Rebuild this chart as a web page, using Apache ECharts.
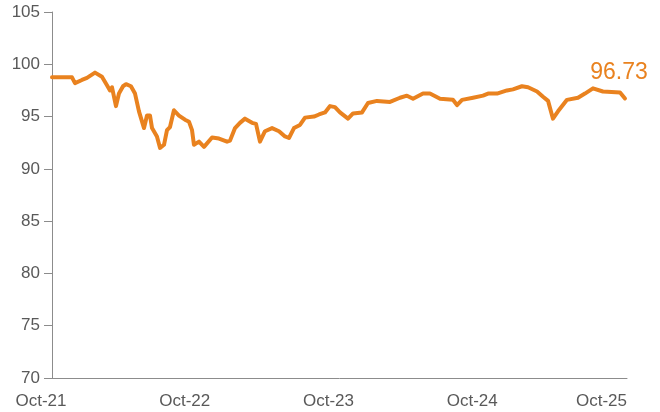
<!DOCTYPE html>
<html>
<head>
<meta charset="utf-8">
<script src="https://cdn.jsdelivr.net/npm/echarts@6/dist/echarts.min.js"></script>
<style>html,body{margin:0;padding:0;background:#fff}#c{width:660px;height:412px}</style>
</head>
<body>
<div id="c"></div>
<script>
// months since Oct-21
var months = [0,1.67,1.92,2.50,2.92,3.59,4.17,4.59,4.84,5.01,
  5.34,5.59,5.93,6.18,6.59,6.93,7.26,7.68,7.93,8.18,
  8.35,8.76,9.02,9.35,9.60,9.85,10.18,10.60,11.10,11.44,
  11.69,11.85,12.27,12.69,13.36,13.94,14.61,14.86,15.28,15.69,
  16.11,16.70,17.03,17.36,17.78,18.37,18.95,19.45,19.78,20.20,
  20.70,21.12,21.87,22.29,22.79,23.21,23.62,24.04,24.71,25.13,
  25.88,26.38,27.13,28.22,29.05,29.63,30.14,30.97,31.55,32.39,
  33.47,33.81,34.23,35.15,35.98,36.40,37.15,37.98,38.48,39.23,
  39.74,40.49,40.99,41.41,41.82,42.24,42.99,43.91,44.49,45.16,
  45.99,47.42,47.83];
var values = [98.75,98.75,98.2,98.5,98.7,99.2,98.8,98.0,97.5,97.8,
  96.0,97.2,97.9,98.1,97.9,97.2,95.5,93.9,95.1,95.1,
  93.9,93.1,92.0,92.3,93.7,94.0,95.6,95.1,94.7,94.5,
  93.7,92.3,92.6,92.1,93.0,92.9,92.6,92.7,93.9,94.4,
  94.8,94.4,94.3,92.6,93.6,93.9,93.6,93.1,92.95,93.9,
  94.2,94.9,95.0,95.2,95.4,96.0,95.9,95.4,94.8,95.3,
  95.4,96.3,96.5,96.4,96.8,97.0,96.7,97.2,97.2,96.7,
  96.6,96.1,96.6,96.8,97.0,97.2,97.2,97.5,97.6,97.9,
  97.8,97.4,96.9,96.5,94.8,95.5,96.6,96.8,97.2,97.7,
  97.4,97.3,96.73];
var tickLabels = ['Oct-21','Oct-22','Oct-23','Oct-24','Oct-25'];
var yTicks = [70,75,80,85,90,95,100,105];

var orange = '#E9821F';
var txt = '#595959';
var font = 'Liberation Sans, Arial, sans-serif';

var data = months.map(function(m,i){ return [m, values[i]]; });

var chart = echarts.init(document.getElementById('c'), null, {renderer:'canvas'});
chart.setOption({
  animation: false,
  grid: {left: 52, right: 33, top: 12, bottom: 34, containLabel: false},
  xAxis: {
    type: 'value', min: 0, max: 48, interval: 12,
    axisLine: {show: true, lineStyle: {color: '#8C8C8C', width: 1}},
    axisTick: {show: false},
    splitLine: {show: false},
    axisLabel: {
      margin: 15, alignMaxLabel: 'right',
      formatter: function(v){
        var i = Math.round(v/12);
        var t = tickLabels[i];
        return i === tickLabels.length - 1 ? '{l|' + t + '}' : '{n|' + t + '}';
      },
      rich: {
        n: {fontSize: 17, color: txt, fontFamily: font, padding: [0, 22, 0, 0]},
        l: {fontSize: 17, color: txt, fontFamily: font}
      }
    }
  },
  yAxis: {
    type: 'value', min: yTicks[0], max: yTicks[yTicks.length-1], interval: 5,
    axisLine: {show: true, lineStyle: {color: '#8C8C8C', width: 1}},
    axisTick: {show: true, length: 8, lineStyle: {color: '#8C8C8C'}},
    splitLine: {show: false},
    axisLabel: {margin: 12, fontSize: 17, color: txt, fontFamily: font}
  },
  series: [{
    type: 'line', data: data, showSymbol: false, symbol: 'none',
    lineStyle: {color: orange, width: 4, join: 'round', cap: 'round'},
    itemStyle: {color: orange},
    endLabel: {
      show: true, distance: 0, align: 'center', verticalAlign: 'bottom',
      offset: [-6, -14],
      formatter: function(p){ return Number(p.value[1]).toFixed(2); },
      color: orange, fontSize: 23, fontFamily: font
    }
  }]
});
</script>
</body>
</html>
